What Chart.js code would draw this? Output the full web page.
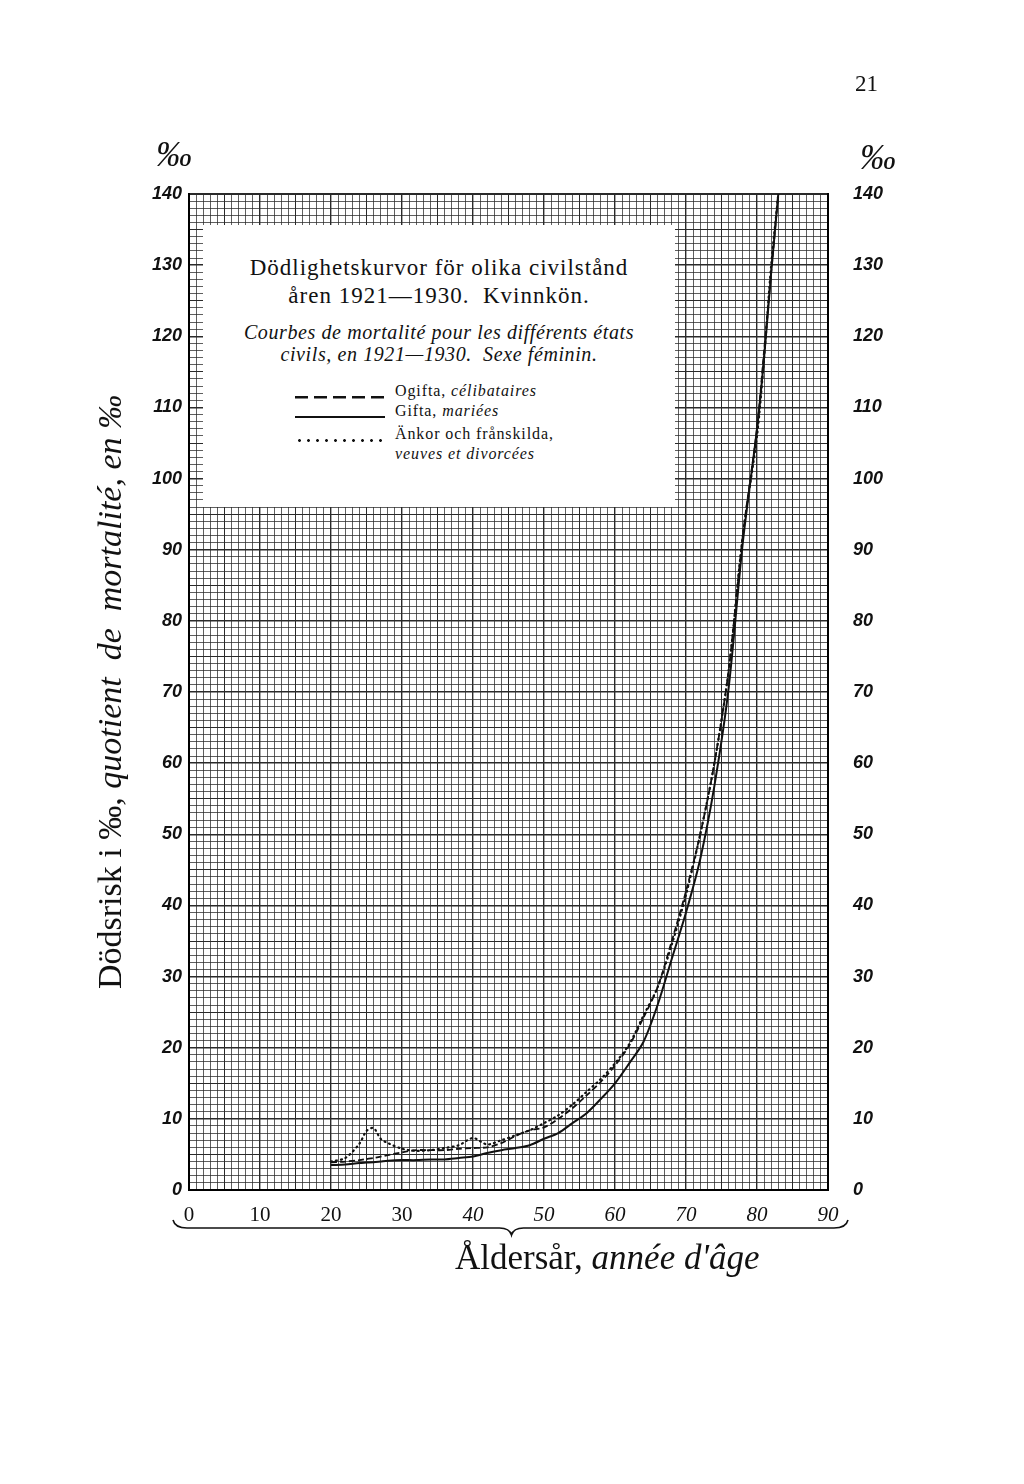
<!DOCTYPE html>
<html>
<head>
<meta charset="utf-8">
<script src="https://cdn.jsdelivr.net/npm/chart.js@4.4.1/dist/chart.umd.min.js"></script>
<style>
  body { margin: 0; background: #fff; }
  #wrap { position: relative; width: 1024px; height: 1484px; overflow: hidden; }
  #chart { position: absolute; left: 0; top: 0; }
  .txt { position: absolute; color: #111; white-space: nowrap; font-family: "Liberation Serif", "DejaVu Serif", serif; }
  #box { position: absolute; left: 203px; top: 225px; width: 472px; height: 282px; background: #fff; }
  .sample { position: absolute; left: 92px; width: 90px; height: 0; }
  .leg { left: 192px; font-size: 16px; letter-spacing: 0.9px; }
</style>
</head>
<body>
<div id="wrap">
  <canvas id="chart" width="1024" height="1484"></canvas>

  <div id="box">
    <div class="txt" style="left:0;width:472px;text-align:center;top:30px;font-size:23px;letter-spacing:1px;">Dödlighetskurvor för olika civilstånd</div>
    <div class="txt" style="left:0;width:472px;text-align:center;top:58px;font-size:23px;letter-spacing:1px;">åren 1921—1930.&nbsp; Kvinnkön.</div>
    <div class="txt" style="left:0;width:472px;text-align:center;top:96px;font-size:20px;font-style:italic;letter-spacing:0.6px;">Courbes de mortalité pour les différents états</div>
    <div class="txt" style="left:0;width:472px;text-align:center;top:118px;font-size:20px;font-style:italic;letter-spacing:0.6px;">civils, en 1921—1930.&nbsp; Sexe féminin.</div>

    <div class="sample" style="top:171px;height:12px;background:repeating-linear-gradient(90deg,#111 0 13px,transparent 13px 19px) no-repeat 0 0/90px 2.5px;"></div>
    <div class="txt leg" style="top:157px;">Ogifta, <i>célibataires</i></div>
    <div class="sample" style="top:191px;border-top:2.5px solid #111;"></div>
    <div class="txt leg" style="top:177px;">Gifta, <i>mariées</i></div>
    <div class="sample" style="top:214px;height:4px;background:radial-gradient(circle,#111 1.2px,transparent 1.6px) 0 0/9px 3px repeat-x;"></div>
    <div class="txt leg" style="top:200px;">Änkor och frånskilda,</div>
    <div class="txt leg" style="top:220px;font-style:italic;">veuves et divorcées</div>
  </div>

  <div class="txt" style="left:855px;top:71px;font-size:23px;">21</div>
  <div class="txt" style="left:156px;top:133px;font-size:36px;font-style:italic;">‰</div>
  <div class="txt" style="left:860px;top:136px;font-size:36px;font-style:italic;">‰</div>

  <div class="txt" style="left:110px;top:692px;transform:translate(-50%,-50%) rotate(-90deg);font-size:34px;">Dödsrisk i ‰, <i>quotient&nbsp; de&nbsp; mortalité, en ‰</i></div>

  <div class="txt" style="left:455px;top:1238px;font-size:35px;">Åldersår, <i>année d'âge</i></div>
</div>

<script>
// Ålder (år)
const ages = [20, 22, 24, 25, 26, 27, 28, 30, 32, 34, 36, 38, 40, 42, 44, 46, 48, 50, 52, 54,
              56, 58, 60, 62, 64, 66, 68, 70, 72, 74, 76, 78, 80, 81, 82, 83];

// Ogifta, célibataires
const ogifta = [3.9, 4.0, 4.2, 4.35, 4.5, 4.7, 4.9, 5.3, 5.6, 5.6, 5.6, 5.8, 5.9, 6.0, 6.6, 7.6, 8.4, 8.8, 10.0, 11.5,
                13.3, 15.2, 17.5, 20.3, 24.2, 28.5, 35, 42, 50, 60, 73, 92, 107, 118, 129, 140];

// Gifta, mariées
const gifta = [3.5, 3.6, 3.8, 3.85, 3.9, 4.0, 4.1, 4.2, 4.2, 4.3, 4.3, 4.5, 4.7, 5.2, 5.6, 5.9, 6.3, 7.2, 8.0, 9.4,
               10.8, 12.8, 15.0, 17.8, 20.8, 26, 32.5, 39, 46.5, 56.8, 70.5, 91, 107, 117, 129, 140];

// Änkor och frånskilda, veuves et divorcées
const ankor = [4.0, 4.5, 6.5, 8.3, 8.7, 7.2, 6.6, 5.8, 5.5, 5.6, 5.9, 6.3, 7.3, 6.4, 7.0, 7.7, 8.4, 9.4, 10.5, 12,
               13.8, 15.6, 17.8, 20.5, 24.5, 28.5, 34.5, 41.5, 50, 60, 73, 92, 106, 117, 130, 140];

// Axlarnas etiketter
const xTicks = [0, 10, 20, 30, 40, 50, 60, 70, 80, 90];
const yTicks = [0, 10, 20, 30, 40, 50, 60, 70, 80, 90, 100, 110, 120, 130, 140];

function points(values) {
    return ages.map((a, i) => ({ x: a, y: values[i] }));
}

function gridWidth(v, max) {
    if (v === 0 || v === max) return 2;
    if (v % 10 === 0) return 1.4;
    if (v % 5 === 0) return 1;
    return 0.75;
}

// Klammer under åldersaxeln
const bracePlugin = {
    id: 'brace',
    afterDraw(chart) {
        const ctx = chart.ctx;
        const x = chart.scales.x;
        const x0 = x.getPixelForValue(0) - 16;
        const x1 = x.getPixelForValue(90) + 20;
        const mid = x.getPixelForValue(45) + 3;
        const y = 1228;
        ctx.save();
        ctx.strokeStyle = '#111';
        ctx.lineWidth = 1.6;
        ctx.beginPath();
        ctx.moveTo(x0, y - 8);
        ctx.quadraticCurveTo(x0 + 2, y, x0 + 14, y);
        ctx.lineTo(mid - 12, y);
        ctx.quadraticCurveTo(mid - 2, y, mid, y + 7);
        ctx.quadraticCurveTo(mid + 2, y, mid + 12, y);
        ctx.lineTo(x1 - 14, y);
        ctx.quadraticCurveTo(x1 - 2, y, x1, y - 8);
        ctx.stroke();
        ctx.restore();
    }
};

const tickFontY = { family: 'Liberation Sans', size: 18, style: 'italic', weight: 'bold' };

const config = {
    type: 'line',
    data: {
        datasets: [
            {
                label: 'Ogifta, célibataires',
                data: points(ogifta),
                borderColor: '#111',
                borderWidth: 1.8,
                borderDash: [6, 3],
                pointRadius: 0,
                tension: 0.3
            },
            {
                label: 'Gifta, mariées',
                data: points(gifta),
                borderColor: '#111',
                borderWidth: 2,
                pointRadius: 0,
                tension: 0.3
            },
            {
                label: 'Änkor och frånskilda, veuves et divorcées',
                data: points(ankor),
                borderColor: '#111',
                borderWidth: 2.2,
                borderDash: [1, 4],
                borderCapStyle: 'round',
                pointRadius: 0,
                tension: 0.3
            }
        ]
    },
    options: {
        responsive: false,
        animation: false,
        layout: { padding: { top: 194, left: 0, right: 0, bottom: 0 } },
        plugins: { legend: { display: false }, tooltip: { enabled: false } },
        scales: {
            x: {
                type: 'linear',
                min: 0,
                max: 90,
                afterFit(scale) { scale.height = 1484 - 1190; },
                border: { display: true, color: '#000', width: 2 },
                grid: {
                    color: '#2a2a2a',
                    drawTicks: false,
                    lineWidth: ctx => gridWidth(ctx.tick ? ctx.tick.value : 1, 90)
                },
                ticks: {
                    stepSize: 1,
                    autoSkip: false,
                    maxRotation: 0,
                    maxTicksLimit: 200,
                    padding: 13,
                    color: '#111',
                    font: ctx => ({
                        family: 'Liberation Serif',
                        size: 21,
                        style: ctx.tick && ctx.tick.value >= 40 ? 'italic' : 'normal'
                    }),
                    callback: v => xTicks.includes(v) ? String(v) : ''
                }
            },
            y: {
                position: 'left',
                min: 0,
                max: 140,
                afterFit(scale) { scale.width = 189; },
                border: { display: true, color: '#000', width: 2 },
                grid: {
                    color: '#2a2a2a',
                    drawTicks: false,
                    lineWidth: ctx => gridWidth(ctx.tick ? ctx.tick.value : 1, 140)
                },
                ticks: {
                    stepSize: 1,
                    autoSkip: false,
                    maxTicksLimit: 200,
                    padding: 7,
                    color: '#111',
                    font: tickFontY,
                    callback: v => yTicks.includes(v) ? String(v) : ''
                }
            },
            y2: {
                position: 'right',
                min: 0,
                max: 140,
                afterFit(scale) { scale.width = 1024 - 828; },
                border: { display: true, color: '#000', width: 2 },
                grid: { display: false, drawTicks: false },
                ticks: {
                    stepSize: 1,
                    autoSkip: false,
                    maxTicksLimit: 200,
                    padding: 25,
                    color: '#111',
                    font: tickFontY,
                    callback: v => yTicks.includes(v) ? String(v) : ''
                }
            }
        }
    },
    plugins: [bracePlugin]
};

const mortalityChart = new Chart(document.getElementById('chart'), config);
</script>
</body>
</html>
